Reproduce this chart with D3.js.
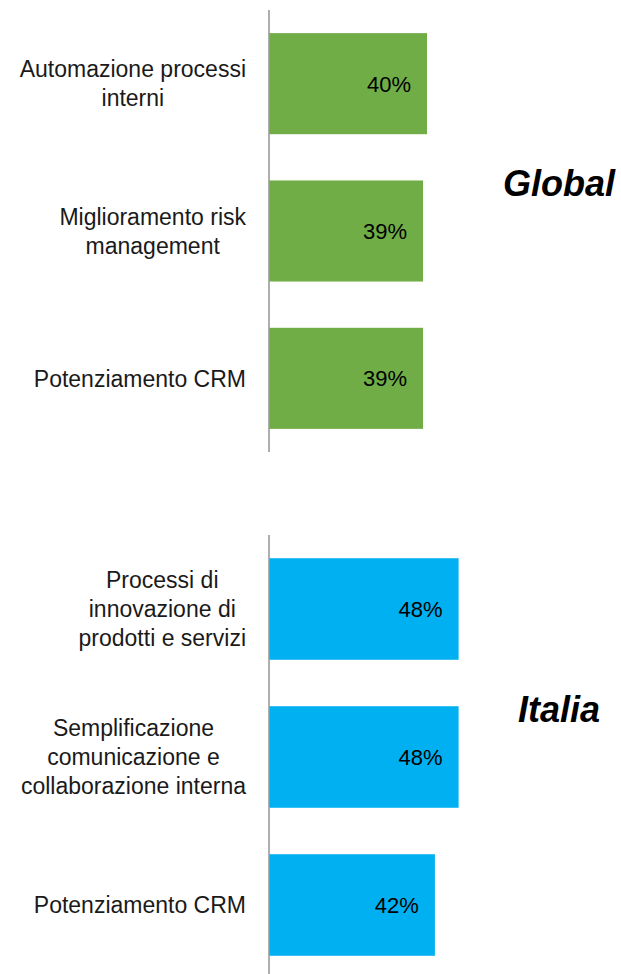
<!DOCTYPE html>
<html>
<head>
<meta charset="utf-8">
<script src="https://cdnjs.cloudflare.com/ajax/libs/d3/7.8.5/d3.min.js"></script>
<style>
body { margin: 0; background: #fff; }
text { font-family: "Liberation Sans", Arial, sans-serif; }
</style>
</head>
<body>
<svg id="chart"></svg>
<script>
// data
const globalCategories = ['Automazione processi\ninterni', 'Miglioramento risk\nmanagement', 'Potenziamento CRM'];
const globalValues = [40, 39, 39];
const italiaCategories = ['Processi di\ninnovazione di\nprodotti e servizi', 'Semplificazione\ncomunicazione e\ncollaborazione interna', 'Potenziamento CRM'];
const italiaValues = [48, 48, 42];
const panelTitles = ['Global', 'Italia'];

const width = 621, height = 974;
const AXIS_X = 269, LINE_H = 29;

const svg = d3.select('#chart')
    .attr('width', width)
    .attr('height', height);

const x = d3.scaleLinear().domain([0, 50]).range([AXIS_X, AXIS_X + 197.5]);

const panels = [
    { title: panelTitles[0], cats: globalCategories, vals: globalValues, color: '#70AD47', y0: 10, y1: 452, axisEnd: 452, titleY: 196 },
    { title: panelTitles[1], cats: italiaCategories, vals: italiaValues, color: '#00B0F0', y0: 535, y1: 979, axisEnd: 974, titleY: 722 }
];

panels.forEach(p => {
    const g = svg.append('g');
    const y = d3.scaleBand()
        .domain(p.cats)
        .range([p.y0, p.y1])
        .paddingInner(0.314)
        .paddingOuter(0.157);

    const data = p.cats.map((c, i) => ({ cat: c, val: p.vals[i] }));

    g.selectAll('rect.bar').data(data).join('rect')
        .attr('class', 'bar')
        .attr('x', x(0))
        .attr('y', d => y(d.cat))
        .attr('width', d => x(d.val) - x(0))
        .attr('height', y.bandwidth())
        .attr('fill', p.color);

    // value labels, inside end
    g.selectAll('text.val').data(data).join('text')
        .attr('class', 'val')
        .attr('x', d => x(d.val) - 16)
        .attr('y', d => y(d.cat) + y.bandwidth() / 2)
        .attr('dy', '0.36em')
        .attr('text-anchor', 'end')
        .attr('font-size', 22)
        .attr('fill', '#000')
        .text(d => d.val + '%');

    // axis line
    g.append('line')
        .attr('x1', AXIS_X).attr('x2', AXIS_X)
        .attr('y1', p.y0).attr('y2', p.axisEnd)
        .attr('stroke', '#9a9a9a')
        .attr('stroke-width', 1.6);

    // category labels: centred lines, block right-aligned to the axis
    data.forEach(d => {
        const lines = d.cat.split('\n');
        const cy = y(d.cat) + y.bandwidth() / 2;
        const t = g.append('text')
            .attr('font-size', 23)
            .attr('fill', '#1a1a1a')
            .attr('text-anchor', 'middle');
        const spans = lines.map((ln, i) => t.append('tspan')
            .attr('y', cy + (i - (lines.length - 1) / 2) * LINE_H)
            .attr('dy', '0.36em')
            .text(ln));
        const maxW = d3.max(spans, s => s.node().getComputedTextLength());
        spans.forEach(s => s.attr('x', AXIS_X - 23 - maxW / 2));
    });

    svg.append('text')
        .attr('x', 559)
        .attr('y', p.titleY)
        .attr('text-anchor', 'middle')
        .attr('font-size', 36)
        .attr('font-weight', 'bold')
        .attr('font-style', 'italic')
        .attr('fill', '#000')
        .text(p.title);
});
</script>
</body>
</html>
